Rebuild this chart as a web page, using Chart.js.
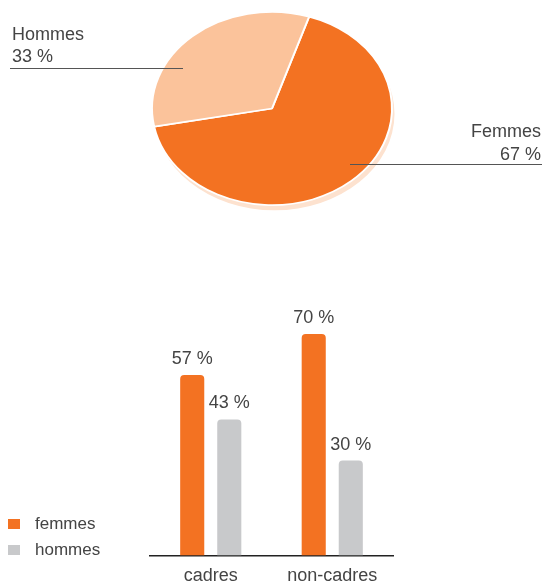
<!DOCTYPE html>
<html>
<head>
<meta charset="utf-8">
<script src="https://cdn.jsdelivr.net/npm/chart.js@4.4.0/dist/chart.umd.min.js"></script>
<style>
  body { margin: 0; background: #fff; width: 542px; height: 585px; position: relative; overflow: hidden;
         font-family: "Liberation Sans", Arial, sans-serif; color: #444; }
  #pieChart { position: absolute; left: 0; top: 0; }
  #barChart { position: absolute; left: 0; top: 280px; }
  #legend { position: absolute; left: 8px; top: 512px; font-size: 17px; }
  #legend div { height: 26px; line-height: 24px; white-space: nowrap; }
  #legend span { display: inline-block; width: 12px; height: 10px; margin-right: 15px; vertical-align: 0px; }
</style>
</head>
<body>
<canvas id="pieChart" width="542" height="240"></canvas>
<canvas id="barChart" width="542" height="309"></canvas>
<div id="legend"></div>
<script>
// repartition globale
const pieLabels = ["Femmes", "Hommes"];
const pieValues = [67, 33];
const pieColors = ["#f37222", "#fbc39b"];

// repartition par statut
const categories = ["cadres", "non-cadres"];
const seriesNames = ["femmes", "hommes"];
const femmes = [57, 70];
const hommes = [43, 30];
const barColors = ["#f37222", "#c8c9cb"];

const textColor = "#444";
const font = "18px 'Liberation Sans', Arial, sans-serif";
const squash = 0.805;

// flattens the pie into an ellipse and puts a light shadow under it
const pieShape = {
    id: "pieShape",
    beforeDatasetsDraw(chart) {
        const arc = chart.getDatasetMeta(0).data[0];
        const c = chart.ctx;
        c.save();
        c.translate(arc.x, arc.y);
        c.scale(1, squash);
        c.translate(-arc.x, -arc.y);
        c.fillStyle = "#fde2cf";
        c.beginPath();
        c.arc(arc.x + 2.5, arc.y + 6.5, arc.outerRadius, 0, Math.PI * 2);
        c.fill();
    },
    afterDatasetsDraw(chart) {
        chart.ctx.restore();
    }
};

// labels with leader lines
const pieCallouts = {
    id: "pieCallouts",
    afterDraw(chart) {
        const c = chart.ctx;
        c.save();
        c.font = font;
        c.fillStyle = textColor;
        c.textAlign = "left";
        c.fillText(pieLabels[1], 12, 40);
        c.fillText(pieValues[1] + " %", 12, 62);
        c.textAlign = "right";
        c.fillText(pieLabels[0], 541, 137);
        c.fillText(pieValues[0] + " %", 541, 160);
        c.strokeStyle = "#555";
        c.lineWidth = 1;
        c.beginPath();
        c.moveTo(10, 68.5);
        c.lineTo(183, 68.5);
        c.moveTo(350, 164.5);
        c.lineTo(542, 164.5);
        c.stroke();
        c.restore();
    }
};

new Chart(document.getElementById("pieChart"), {
    type: "pie",
    data: {
        labels: pieLabels,
        datasets: [{
            data: pieValues,
            backgroundColor: pieColors,
            borderColor: "#fff",
            borderWidth: 2,
            hoverOffset: 0,
            clip: false
        }]
    },
    options: {
        responsive: false,
        animation: false,
        rotation: 18,
        radius: 120,
        layout: { padding: { left: 2, right: 0, top: 0, bottom: 23 } },
        plugins: { legend: { display: false }, tooltip: { enabled: false } }
    },
    plugins: [pieShape, pieCallouts]
});

// value above each bar
const barValues = {
    id: "barValues",
    afterDatasetsDraw(chart) {
        const c = chart.ctx;
        c.save();
        c.font = font;
        c.fillStyle = textColor;
        c.textAlign = "center";
        chart.data.datasets.forEach((ds, i) => {
            chart.getDatasetMeta(i).data.forEach((bar, j) => {
                c.fillText(ds.data[j] + " %", bar.x, bar.y - 11);
            });
        });
        c.restore();
    }
};

new Chart(document.getElementById("barChart"), {
    type: "bar",
    data: {
        labels: categories,
        datasets: [
            { label: seriesNames[0], data: femmes, backgroundColor: barColors[0] },
            { label: seriesNames[1], data: hommes, backgroundColor: barColors[1] }
        ]
    },
    options: {
        responsive: false,
        animation: false,
        barPercentage: 0.65,
        categoryPercentage: 0.61,
        borderRadius: 4,
        layout: { padding: { left: 150, right: 149, top: 54, bottom: 0 } },
        scales: {
            x: {
                grid: { display: false },
                border: { display: true, color: "#222", width: 1.5 },
                ticks: { color: textColor, font: { size: 18, family: "'Liberation Sans', Arial, sans-serif" }, padding: 2 }
            },
            y: { display: false, min: 0, max: 70 }
        },
        plugins: { legend: { display: false }, tooltip: { enabled: false } }
    },
    plugins: [barValues]
});

const legend = document.getElementById("legend");
seriesNames.forEach((name, i) => {
    const row = document.createElement("div");
    const box = document.createElement("span");
    box.style.background = barColors[i];
    row.appendChild(box);
    row.appendChild(document.createTextNode(name));
    legend.appendChild(row);
});
</script>
</body>
</html>
